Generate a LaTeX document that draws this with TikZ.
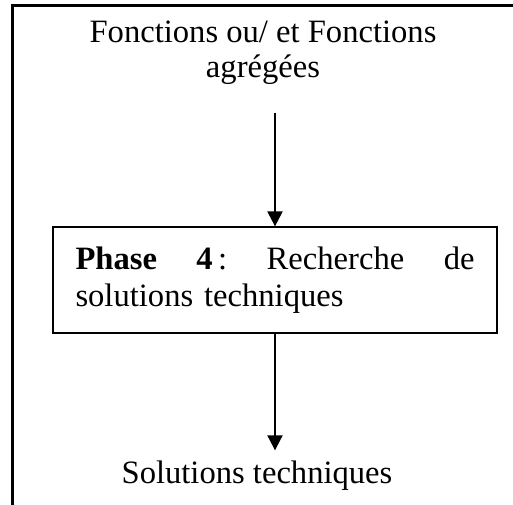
\documentclass[tikz,border=0pt]{standalone}
\usepackage{fontspec}
\setmainfont{Liberation Serif}
\usetikzlibrary{arrows.meta, positioning}

\begin{document}
\begin{tikzpicture}[>={Triangle[width=7.5pt,length=7.5pt]}, x=0.5pt, y=0.5pt,
    txt/.style={font=\fontsize{16.3}{17.5}\selectfont, align=center},
    fleche/.style={->, line width=1pt}]
    % Cadre
    \useasboundingbox (0,0) rectangle (513,504);
    \clip (0,0) rectangle (513,504);
    \draw[line width=1.5pt] (12,-20) rectangle (540,498);

    % Entrée
    \node[txt, anchor=base] (src) at (263,426) {Fonctions ou/ et Fonctions\\agrégées};

    % Phase 4
    \node[draw, line width=0.6pt, minimum width=222pt, minimum height=53pt,
        font=\fontsize{16.3}{18.5}\selectfont, text width=199.5pt, align=left]
        (phase) at (275,224) {\textbf{Phase}\hfill\textbf{4}\,:\hfill Recherche\hfill de\\solutions techniques};

    % Sortie
    \node[txt, anchor=base] (sol) at (257,21) {Solutions techniques};

    % Flèches
    \draw[fleche] ([yshift=-10.5pt]src.south -| phase.north) -- (phase.north);
    \draw[fleche] (phase.south) -- ([yshift=1.5pt]sol.north -| phase.south);
\end{tikzpicture}
\end{document}
